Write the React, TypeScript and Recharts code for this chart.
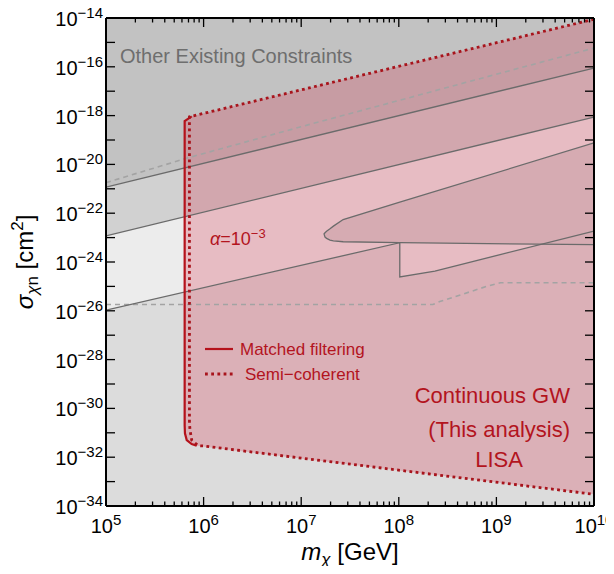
import React from "react";
import { ComposedChart, XAxis, YAxis, Area, Line } from "recharts";

// ---- axis ticks (exponents of 10) ----
const massMajorTicks = [5, 6, 7, 8, 9, 10]; // log10(m_chi / GeV)
const massMinorMultipliers = [2, 3, 4, 5, 6, 7, 8, 9];
const sigmaTicks = [-34, -33, -32, -31, -30, -29, -28, -27, -26, -25, -24, -23, -22, -21, -20, -19, -18, -17, -16, -15, -14];
const sigmaLabelled = [-34, -32, -30, -28, -26, -24, -22, -20, -18, -16, -14];

// ---- other existing constraints (log10 m, log10 sigma) ----
const upperLine1M = [5, 10];
const upperLine1S = [-20.93, -16.05];
const upperLine2M = [5, 10];
const upperLine2S = [-22.93, -18.06];
const lowerEdgeM = [5, 8.01, 8.01, 8.37, 10];
const lowerEdgeS = [-25.97, -23.21, -24.61, -24.37, -22.73];
const lobeM = [7.234, 7.244, 7.26, 7.295, 7.33, 7.43, 8.01, 10];
const lobeTopS = [-22.85, -22.8, -22.74, -22.64, -22.53, -22.26, -21.55, -19.12];
const lobeBottomS = [-22.85, -22.98, -23.03, -23.1, -23.13, -23.17, -23.21, -23.29];
const dashedDiagM = [5, 5.83, 7.06, 10];
const dashedDiagS = [-20.75, -19.74, -18.39, -15.23];
const dashedFlatM = [5, 8.35, 8.42, 8.9, 9.04, 10];
const dashedFlatS = [-25.74, -25.74, -25.62, -25.0, -24.85, -24.85];

// ---- LISA continuous GW reach ----
const lisaM = [5.806, 5.809, 5.827, 5.878, 5.929, 10];
const lisaTopS = [-18.22, -18.21, -18.16, -18.03, -17.98, -14.05];
const lisaBottomS = [-30.7, -31.02, -31.3, -31.46, -31.53, -33.52];
const matchedM = [5.878, 5.806, 5.806, 5.809, 5.827, 5.878, 5.929];
const matchedS = [-18.03, -18.22, -30.7, -31.02, -31.3, -31.46, -31.53];
const semiM = [10, 5.855, 5.855, 5.861, 5.878, 5.946, 5.997, 10];
const semiS = [-14.05, -18.05, -30.6, -30.89, -31.3, -31.53, -31.54, -33.52];

const X_MIN = 5, X_MAX = 10, Y_MIN = -34, Y_MAX = -14;

const pts = (ms: number[], ss: number[]) => ms.map((m, i) => ({ m, s: ss[i] }));
const rng = (ms: number[], lo: number[], hi: number[]) => ms.map((m, i) => ({ m, r: [lo[i], hi[i]] }));
const toTop = (ms: number[]) => ms.map(() => Y_MAX);

const massTicks: number[] = [];
massMajorTicks.forEach((e) => {
  massTicks.push(e);
  if (e < X_MAX) massMinorMultipliers.forEach((k) => massTicks.push(e + Math.log10(k)));
});

const FONT = "'Liberation Sans', Arial, Helvetica, sans-serif";
const RED = "#b3141e";
const LINE_RED = "#a8141c";
const GRAY_LINE = "#6b6b6b";
const TICK_W = 1.3;

const isMajor = (v: number) => Math.abs(v - Math.round(v)) < 1e-6;

function BottomTick(props: any) {
  const { x, y, payload } = props;
  const v = payload.value;
  const major = isMajor(v);
  const ay = y - 10;
  return (
    <g>
      <line x1={x} x2={x} y1={ay} y2={ay - (major ? 9 : 4.5)} stroke="#000" strokeWidth={TICK_W} />
      {major && (
        <text x={x} y={ay + 27} textAnchor="middle" fontFamily={FONT} fontSize={20} fill="#000">
          10
          <tspan dy={-8} fontSize={15}>{Math.round(v)}</tspan>
        </text>
      )}
    </g>
  );
}

function TopTick(props: any) {
  const { x, y, payload } = props;
  const major = isMajor(payload.value);
  const ay = y + 10;
  return <line x1={x} x2={x} y1={ay} y2={ay + (major ? 9 : 4.5)} stroke="#000" strokeWidth={TICK_W} />;
}

function LeftTick(props: any) {
  const { x, y, payload } = props;
  const v = Math.round(payload.value);
  const ax = x + 10;
  return (
    <g>
      <line x1={ax} x2={ax + 9} y1={y} y2={y} stroke="#000" strokeWidth={TICK_W} />
      {sigmaLabelled.includes(v) && (
        <text x={ax - 3} y={y + 8} textAnchor="end" fontFamily={FONT} fontSize={20} fill="#000">
          10
          <tspan dy={-8} fontSize={15}>{"\u2212" + Math.abs(v)}</tspan>
        </text>
      )}
    </g>
  );
}

function RightTick(props: any) {
  const { x, y } = props;
  const ax = x - 10;
  return <line x1={ax} x2={ax - 9} y1={y} y2={y} stroke="#000" strokeWidth={TICK_W} />;
}

const areaCommon = { type: "linear" as const, stroke: "none", isAnimationActive: false, dot: false, activeDot: false, dataKey: "r" };
const lineCommon = { type: "linear" as const, isAnimationActive: false, dot: false, activeDot: false, dataKey: "s" };

export default function App() {
  const W = 598, H = 558;
  return (
    <div style={{ position: "relative", width: W, height: H }}>
      <style>{`.recharts-surface{overflow:visible}.recharts-wrapper{overflow:visible}`}</style>
      <ComposedChart width={W} height={H} margin={{ top: 0, right: 0, bottom: 0, left: 0 }}>
        {/* gray constraint layers */}
        <Area {...areaCommon} data={rng([X_MIN, X_MAX], [Y_MIN, Y_MIN], [Y_MAX, Y_MAX])} fill="#dcdcdc" fillOpacity={1} />
        <Area {...areaCommon} data={rng(lowerEdgeM, lowerEdgeS, toTop(lowerEdgeM))} fill="#ececec" fillOpacity={1} />
        <Area {...areaCommon} data={rng(upperLine2M, upperLine2S, toTop(upperLine2M))} fill="#d1d1d1" fillOpacity={1} />
        <Area {...areaCommon} data={rng(upperLine1M, upperLine1S, toTop(upperLine1M))} fill="#c2c2c2" fillOpacity={1} />
        <Area {...areaCommon} data={rng(lobeM, lobeBottomS, lobeTopS)} fill="#d6d6d6" fillOpacity={1} />
        {/* LISA region */}
        <Area {...areaCommon} data={rng(lisaM, lisaBottomS, lisaTopS)} fill="#d8203c" fillOpacity={0.23} />
        {/* constraint boundaries */}
        <Line {...lineCommon} data={pts(dashedDiagM, dashedDiagS)} stroke="#a3a3a3" strokeWidth={1.6} strokeDasharray="5 4" />
        <Line {...lineCommon} data={pts(dashedFlatM, dashedFlatS)} stroke="#a3a3a3" strokeWidth={1.6} strokeDasharray="5 4" />
        <Line {...lineCommon} data={pts(upperLine1M, upperLine1S)} stroke={GRAY_LINE} strokeWidth={1.3} />
        <Line {...lineCommon} data={pts(upperLine2M, upperLine2S)} stroke={GRAY_LINE} strokeWidth={1.3} />
        <Line {...lineCommon} data={pts(lowerEdgeM, lowerEdgeS)} stroke={GRAY_LINE} strokeWidth={1.3} />
        <Line
          {...lineCommon}
          data={pts([...lobeM].reverse().concat(lobeM.slice(1)), [...lobeTopS].reverse().concat(lobeBottomS.slice(1)))}
          stroke={GRAY_LINE}
          strokeWidth={1.3}
        />
        {/* LISA boundaries */}
        <Line {...lineCommon} data={pts(matchedM, matchedS)} stroke="#b5121b" strokeWidth={2.2} />
        <Line {...lineCommon} data={pts(semiM, semiS)} stroke={LINE_RED} strokeWidth={2.8} strokeDasharray="2.8 3.4" />

        <XAxis
          dataKey="m" type="number" domain={[X_MIN, X_MAX]} allowDataOverflow ticks={massTicks} interval={0}
          orientation="bottom" height={60} axisLine={{ stroke: "#000", strokeWidth: 2 }} tickLine={false}
          tickSize={10} tickMargin={0} tick={<BottomTick />}
        />
        <XAxis
          xAxisId="top" dataKey="m" type="number" domain={[X_MIN, X_MAX]} allowDataOverflow ticks={massTicks} interval={0}
          orientation="top" height={10} axisLine={{ stroke: "#000", strokeWidth: 2 }} tickLine={false}
          tickSize={10} tickMargin={0} tick={<TopTick />}
        />
        <YAxis
          type="number" domain={[Y_MIN, Y_MAX]} allowDataOverflow ticks={sigmaTicks} interval={0}
          orientation="left" width={98} axisLine={{ stroke: "#000", strokeWidth: 2 }} tickLine={false}
          tickSize={10} tickMargin={0} tick={<LeftTick />}
        />
        <YAxis
          yAxisId="right" type="number" domain={[Y_MIN, Y_MAX]} allowDataOverflow ticks={sigmaTicks} interval={0}
          orientation="right" width={12} axisLine={{ stroke: "#000", strokeWidth: 2 }} tickLine={false}
          tickSize={10} tickMargin={0} tick={<RightTick />}
        />
      </ComposedChart>
      <svg width={W} height={H} style={{ position: "absolute", left: 0, top: 0, pointerEvents: "none", overflow: "visible" }}>
        <text x={112} y={55} fontFamily={FONT} fontSize={20} fill="#6e6e6e">Other Existing Constraints</text>
        <text x={202} y={237} fontFamily={FONT} fontSize={18} fill={RED}>
          <tspan fontStyle="italic">α</tspan>=10<tspan dy={-7} fontSize={13}>−3</tspan>
        </text>
        <line x1={197} x2={225} y1={341} y2={341} stroke="#b5121b" strokeWidth={2.2} />
        <text x={232} y={347} fontFamily={FONT} fontSize={17} fill={RED}>Matched filtering</text>
        <line x1={197} x2={227} y1={366} y2={366} stroke={LINE_RED} strokeWidth={2.8} strokeDasharray="2.8 3.4" />
        <text x={237} y={372} fontFamily={FONT} fontSize={17} fill={RED}>Semi−coherent</text>
        <text x={562} y={395} textAnchor="end" fontFamily={FONT} fontSize={22} fill={RED}>Continuous GW</text>
        <text x={562} y={429} textAnchor="end" fontFamily={FONT} fontSize={22} fill={RED}>(This analysis)</text>
        <text x={491} y={459} textAnchor="middle" fontFamily={FONT} fontSize={22} fill={RED}>LISA</text>
        <text x={342} y={552} textAnchor="middle" fontFamily={FONT} fontSize={24} fill="#000">
          <tspan fontStyle="italic">m</tspan>
          <tspan fontStyle="italic" fontSize={17} dy={5}>χ</tspan>
          <tspan dy={-5}> [GeV]</tspan>
        </text>
        <text transform="translate(25,254) rotate(-90)" textAnchor="middle" fontFamily={FONT} fontSize={24} fill="#000">
          <tspan fontStyle="italic">σ</tspan>
          <tspan fontSize={17} dy={5}><tspan fontStyle="italic">χ</tspan>n</tspan>
          <tspan dy={-5}> [cm</tspan>
          <tspan fontSize={17} dy={-10}>2</tspan>
          <tspan dy={10}>]</tspan>
        </text>
      </svg>
    </div>
  );
}
